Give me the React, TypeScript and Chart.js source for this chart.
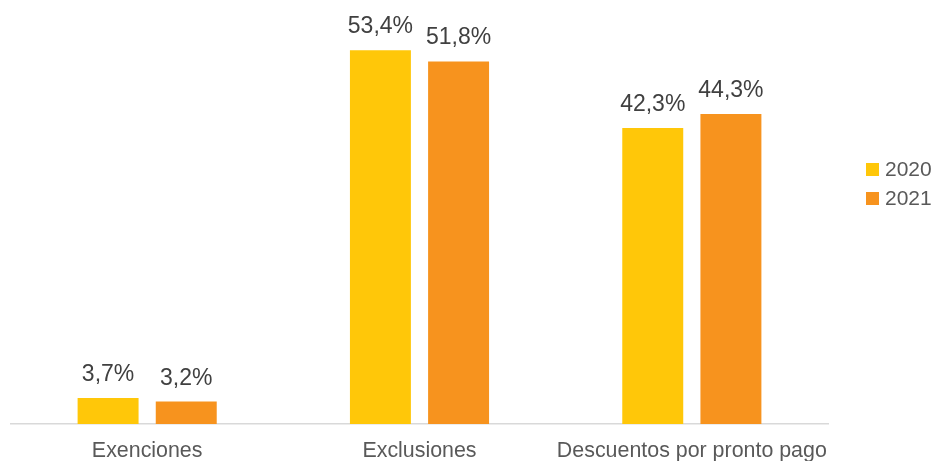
import React, { useEffect, useRef } from "react";
import { Chart, registerables } from "chart.js";

Chart.register(...registerables);

const categories = ["Exenciones", "Exclusiones", "Descuentos por pronto pago"];
const seriesNames = ["2020", "2021"];
const values2020 = [3.7, 53.4, 42.3];
const values2021 = [3.2, 51.8, 44.3];
const colors = ["#FFC709", "#F7931E"];

const FONT = "'Liberation Sans', Arial, sans-serif";

const fmt = (v: number) => v.toFixed(1).replace(".", ",") + "%";

const dataLabelPlugin = {
  id: "dataLabels",
  afterDatasetsDraw(chart: any) {
    const ctx = chart.ctx;
    ctx.save();
    ctx.font = `23px ${FONT}`;
    ctx.fillStyle = "#404040";
    ctx.textAlign = "center";
    ctx.textBaseline = "alphabetic";
    chart.data.datasets.forEach((ds: any, i: number) => {
      const meta = chart.getDatasetMeta(i);
      meta.data.forEach((bar: any, j: number) => {
        ctx.fillText(fmt(ds.data[j]), bar.x, bar.y - 17);
      });
    });
    ctx.restore();
  },
};

const legendPlugin = {
  id: "customLegend",
  afterDraw(chart: any) {
    const ctx = chart.ctx;
    ctx.save();
    ctx.font = `21px ${FONT}`;
    ctx.textBaseline = "middle";
    ctx.textAlign = "left";
    const x0 = chart.chartArea.right + 38;
    const y0 = 163;
    chart.data.datasets.forEach((ds: any, i: number) => {
      const y = y0 + i * 29;
      ctx.fillStyle = ds.backgroundColor;
      ctx.fillRect(x0, y, 13, 13);
      ctx.fillStyle = "#595959";
      ctx.fillText(ds.label, x0 + 19, y + 7);
    });
    ctx.restore();
  },
};

export default function App() {
  const ref = useRef<HTMLCanvasElement>(null);
  useEffect(() => {
    if (!ref.current) return;
    const chart = new Chart(ref.current, {
      type: "bar",
      data: {
        labels: categories,
        datasets: [
          {
            label: seriesNames[0],
            data: values2020,
            backgroundColor: colors[0],
            barPercentage: 0.78,
            categoryPercentage: 0.574,
          },
          {
            label: seriesNames[1],
            data: values2021,
            backgroundColor: colors[1],
            barPercentage: 0.78,
            categoryPercentage: 0.574,
          },
        ],
      },
      options: {
        animation: false,
        responsive: false,
        maintainAspectRatio: false,
        layout: { padding: { left: 11, right: 112, top: 4, bottom: 0 } },
        plugins: {
          legend: { display: false },
          tooltip: { enabled: false },
        },
        scales: {
          x: {
            grid: { display: false, drawTicks: false },
            border: { display: true, color: "#D9D9D9", width: 1.5 },
            ticks: {
              color: "#595959",
              font: { family: FONT, size: 21.4 },
              padding: 14,
              maxRotation: 0,
              autoSkip: false,
            },
            afterFit: (scale: any) => {
              scale.height = 37;
            },
          },
          y: {
            display: false,
            min: 0,
            max: 60,
          },
        },
      },
      plugins: [dataLabelPlugin, legendPlugin],
    });
    return () => chart.destroy();
  }, []);
  return (
    <div style={{ position: "absolute", left: 0, top: 0, width: 940, height: 461, background: "#fff" }}>
      <canvas ref={ref} width={940} height={461} style={{ width: 940, height: 461 }} />
    </div>
  );
}
